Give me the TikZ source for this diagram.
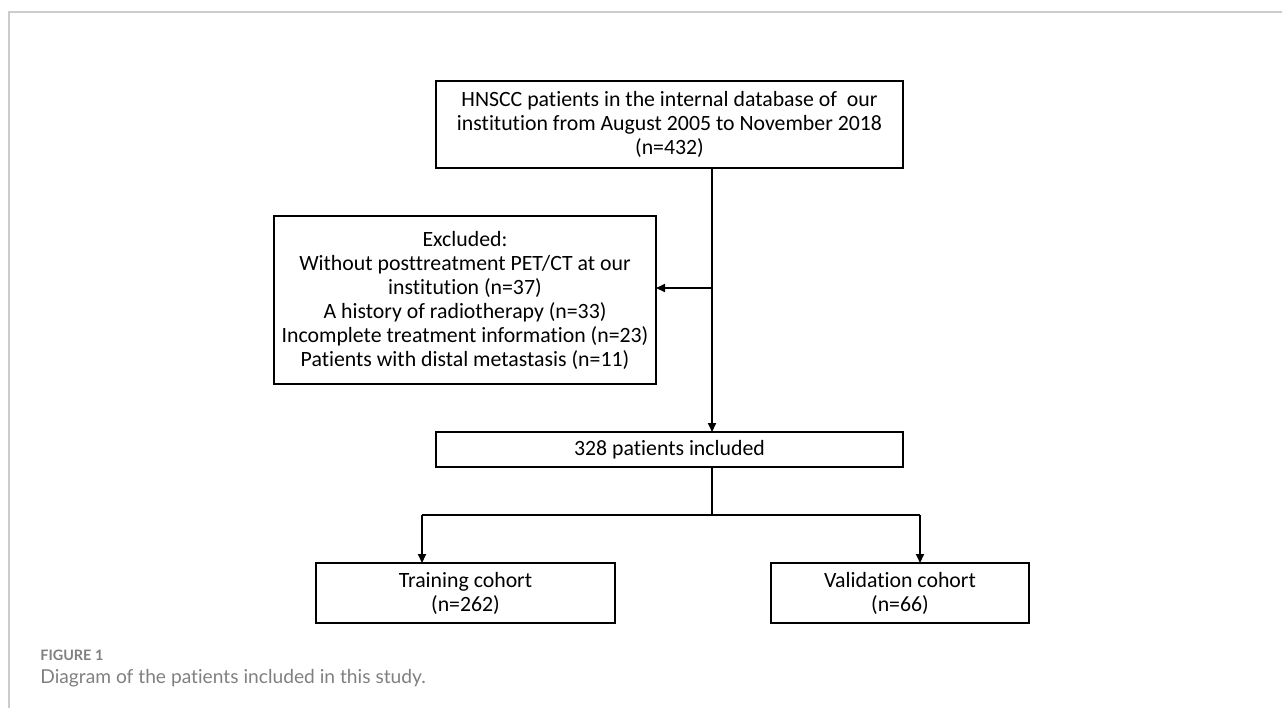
\documentclass[tikz,border=0pt]{standalone}
\usepackage{fontspec}
\setmainfont{Carlito}[Ligatures=NoCommon]
\newfontfamily\capfont{Lato}[Ligatures=NoCommon]
\usetikzlibrary{arrows.meta}

\definecolor{framegray}{HTML}{CCCCCC}
\definecolor{capgray}{HTML}{808080}

\begin{document}
\begin{tikzpicture}[x=0.5pt,y=-0.5pt,
    box/.style={draw,line width=1pt,inner sep=0pt,outer sep=0pt,align=center,
        font=\fontsize{10.9}{12}\selectfont},
    arr/.style={line width=1pt,-{Triangle[length=4.5pt,width=4pt]}},
    link/.style={line width=1pt}]
    \useasboundingbox (0,0) rectangle (1282,708);

    % Frame
    \draw[framegray,line width=0.8pt] (1282,12) -- (9,12) -- (9,708);

    % Database box
    \node[box,minimum width=233.5pt,minimum height=43.5pt] (db) at (669.5,124.5)
        {HNSCC patients in the internal database of\ \ our\\institution from August 2005 to November 2018\\(n=432)};

    % Excluded box
    \node[box,minimum width=191pt,minimum height=84pt] (excl) at (465,300)
        {Excluded:\\Without posttreatment PET/CT at our\\institution (n=37)\\A history of radiotherapy (n=33)\\Incomplete treatment information (n=23)\\Patients with distal metastasis (n=11)};

    % Included box
    \node[box,minimum width=233.5pt,minimum height=17.5pt] (incl) at (669.5,449.5) {328 patients included};

    % Cohort boxes
    \node[box,minimum width=149.5pt,minimum height=30pt] (train) at (465.5,593) {Training cohort\\(n=262)};
    \node[box,minimum width=129pt,minimum height=30pt] (valid) at (900,593) {Validation cohort\\(n=66)};

    % Connectors
    \coordinate (trunk) at (712,288);
    \coordinate (fork) at (712,515);
    \coordinate (lft) at (422,515);
    \coordinate (rgt) at (920,515);

    \draw[arr] (db.south -| trunk) -- (incl.north -| trunk);
    \draw[arr] (trunk) -- (trunk -| excl.east);
    \draw[link] (incl.south -| fork) -- (fork);
    \draw[link] (lft) -- (rgt);
    \draw[arr] (lft) -- (lft |- train.north);
    \draw[arr] (rgt) -- (rgt |- valid.north);

    % Caption
    \node[anchor=west,inner sep=0pt,capgray,font=\capfont\bfseries\fontsize{7.2}{9}\selectfont] (fig) at (40,655) {FIGURE 1};
    \node[anchor=west,inner sep=0pt,capgray,font=\capfont\fontsize{9.6}{11}\selectfont] (cap) at (40,678) {Diagram of the patients included in this study.};

\end{tikzpicture}
\end{document}
